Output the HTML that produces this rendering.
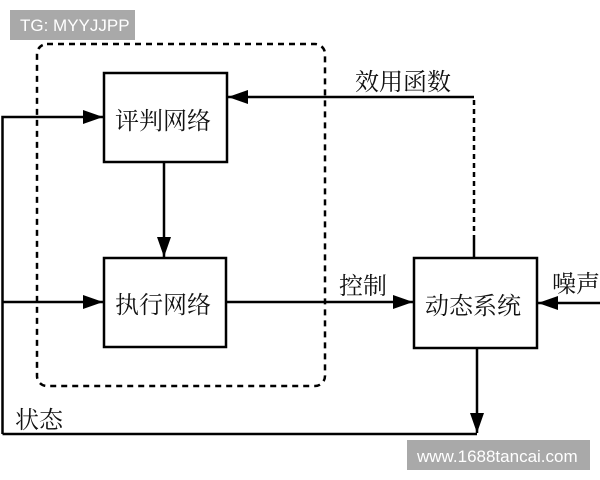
<!DOCTYPE html>
<html><head><meta charset="utf-8"><style>
html,body{margin:0;padding:0;background:#fff;}
svg{display:block}
text{font-family:"Noto Serif CJK SC","Liberation Serif",serif;fill:#111}
</style></head><body>
<svg width="600" height="480" viewBox="0 0 600 480">
<defs><marker id="a" markerWidth="20" markerHeight="14" refX="20" refY="7" orient="auto" markerUnits="userSpaceOnUse"><path d="M0,0 L20,7 L0,14 z" fill="#000"/></marker></defs>
<rect x="37" y="44" width="288" height="342" rx="10" fill="none" stroke="#000" stroke-width="2.5" stroke-dasharray="6,5"/>
<g fill="#fff" stroke="#000" stroke-width="2.5">
<rect x="104" y="73" width="123" height="89"/>
<rect x="104" y="258" width="122" height="89"/>
<rect x="414" y="258" width="123" height="90"/>
</g>
<g stroke="#000" stroke-width="2.5" fill="none">
<path d="M2.5,434 V117 H103" marker-end="url(#a)"/>
<path d="M2.5,434 H477"/>
<path d="M477,348 V433" marker-end="url(#a)"/>
<path d="M2.5,302 H103" marker-end="url(#a)"/>
<path d="M164,162 V257" marker-end="url(#a)"/>
<path d="M226,302 H413" marker-end="url(#a)"/>
<path d="M600,303 H538" marker-end="url(#a)"/>
<path d="M474,258 V240"/>
<path d="M474,240 V97" stroke-dasharray="5,4"/>
<path d="M474,97 H228" marker-end="url(#a)"/>
</g>
<g font-size="24">
<text x="115" y="129">评判网络</text>
<text x="115" y="313">执行网络</text>
<text x="425" y="314">动态系统</text>
<text x="355" y="90">效用函数</text>
<text x="339" y="294">控制</text>
<text x="552" y="292">噪声</text>
<text x="15" y="428">状态</text>
</g>
<rect x="10" y="10" width="125" height="30" fill="#a9a9a9"/>
<text x="20" y="31" font-size="17" style="font-family:'Liberation Sans',sans-serif;fill:#fff">TG: MYYJJPP</text>
<rect x="407" y="440" width="183" height="30" fill="#a9a9a9"/>
<text x="417" y="462" font-size="17" style="font-family:'Liberation Sans',sans-serif;fill:#fff">www.1688tancai.com</text>
</svg>
</body></html>
